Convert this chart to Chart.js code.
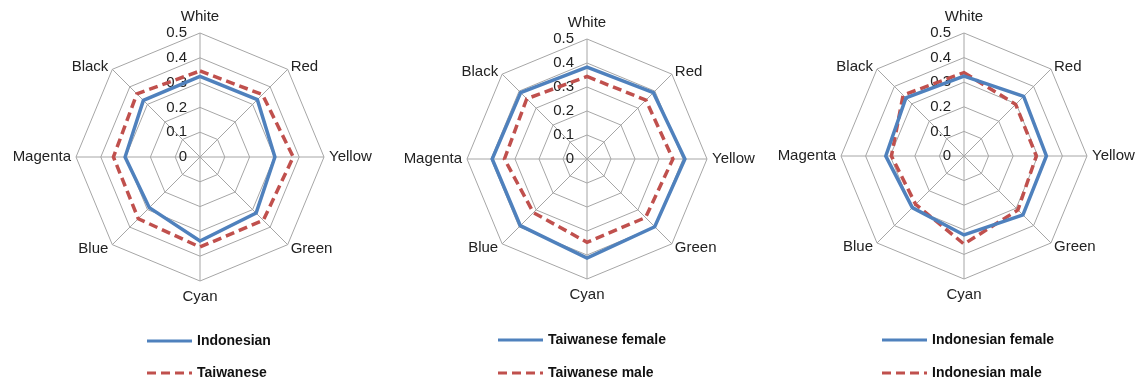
<!DOCTYPE html>
<html>
<head>
<meta charset="utf-8">
<script src="https://cdn.jsdelivr.net/npm/chart.js@4.4.1/dist/chart.umd.min.js"></script>
<style>
    html, body { margin: 0; padding: 0; background: #fff; overflow: hidden; }
    body { width: 1138px; height: 381px; position: relative; }
    canvas { position: absolute; top: 0; }
</style>
</head>
<body>
<canvas id="radarAll" style="left:0px" width="380" height="381"></canvas>
<canvas id="radarTw" style="left:380px" width="380" height="381"></canvas>
<canvas id="radarId" style="left:760px" width="378" height="381"></canvas>

<script>
const colorNames = ['White', 'Red', 'Yellow', 'Green', 'Cyan', 'Blue', 'Magenta', 'Black'];
const tickValues = [0, 0.1, 0.2, 0.3, 0.4, 0.5];

// nationality comparison
const indonesian = [0.325, 0.327, 0.302, 0.32, 0.339, 0.289, 0.302, 0.323];
const taiwanese = [0.347, 0.356, 0.376, 0.361, 0.363, 0.352, 0.349, 0.36];

// Taiwanese by gender
const taiwaneseFemale = [0.383, 0.391, 0.408, 0.399, 0.413, 0.393, 0.395, 0.391];
const taiwaneseMale = [0.344, 0.347, 0.358, 0.345, 0.347, 0.316, 0.344, 0.355];

// Indonesian by gender
const indonesianFemale = [0.325, 0.343, 0.335, 0.339, 0.321, 0.297, 0.318, 0.334];
const indonesianMale = [0.339, 0.297, 0.294, 0.31, 0.358, 0.278, 0.295, 0.35];

const BLUE = '#4F81BD';
const RED = '#C0504D';
const GRID = '#A6A6A6';
const FONT = "'Liberation Sans', Arial, sans-serif";

// tick numbers sit just left of the vertical (White) spoke
const tickLabelPlugin = {
    id: 'tickLabels',
    beforeDatasetsDraw(chart) {
        const scale = chart.scales.r;
        const ctx = chart.ctx;
        ctx.save();
        ctx.font = '15px ' + FONT;
        ctx.fillStyle = '#222';
        ctx.textAlign = 'right';
        ctx.textBaseline = 'middle';
        tickValues.forEach(v => {
            const p = scale.getPointPositionForValue(0, v);
            ctx.fillText(v === 0 ? '0' : v.toFixed(1), p.x - 13, p.y);
        });
        ctx.restore();
    }
};

// category names placed Excel-style: diagonals sit beside the corner, not above it
const colorLabelPlugin = {
    id: 'colorLabels',
    afterDraw(chart) {
        const scale = chart.scales.r;
        const ctx = chart.ctx;
        const r = scale.drawingArea;
        ctx.save();
        ctx.font = '15px ' + FONT;
        ctx.fillStyle = '#222';
        ctx.textBaseline = 'middle';
        chart.data.labels.forEach((name, i) => {
            const corner = scale.getPointPosition(i, r);
            const dx = corner.x - scale.xCenter;
            const dy = corner.y - scale.yCenter;
            let x = corner.x, y = corner.y;
            if (Math.abs(dx) < 1) {
                ctx.textAlign = 'center';
                y += dy < 0 ? -16 : 16;
            } else if (Math.abs(dy) < 1) {
                ctx.textAlign = dx > 0 ? 'left' : 'right';
                x += dx > 0 ? 5 : -5;
            } else {
                ctx.textAlign = dx > 0 ? 'left' : 'right';
                x += dx > 0 ? 3 : -4;
                y += dy < 0 ? -2 : 4;
            }
            ctx.fillText(name, x, y);
        });
        ctx.restore();
    }
};

// two-row key under each radar
const seriesKeyPlugin = {
    id: 'seriesKey',
    afterDraw(chart, args, opts) {
        const ctx = chart.ctx;
        ctx.save();
        ctx.font = 'bold 14px ' + FONT;
        ctx.fillStyle = '#111';
        ctx.textBaseline = 'middle';
        chart.data.datasets.forEach((ds, i) => {
            const y = opts.y + i * opts.rowGap;
            ctx.beginPath();
            ctx.lineWidth = 3;
            ctx.strokeStyle = ds.borderColor;
            ctx.setLineDash(ds.borderDash || []);
            ctx.moveTo(opts.x, y);
            ctx.lineTo(opts.x + 45, y);
            ctx.stroke();
            ctx.setLineDash([]);
            ctx.fillText(ds.label, opts.x + 50, y);
        });
        ctx.restore();
    }
};

function makeRadar(canvasId, labelA, dataA, labelB, dataB, pad, key) {
    const ctx = document.getElementById(canvasId).getContext('2d');
    return new Chart(ctx, {
        type: 'radar',
        data: {
            labels: colorNames,
            datasets: [
                {
                    label: labelA,
                    data: dataA,
                    borderColor: BLUE,
                    borderWidth: 3.5,
                    fill: false,
                    pointRadius: 0,
                    tension: 0
                },
                {
                    label: labelB,
                    data: dataB,
                    borderColor: RED,
                    borderWidth: 3.5,
                    borderDash: [9, 5],
                    fill: false,
                    pointRadius: 0,
                    tension: 0
                }
            ]
        },
        options: {
            responsive: false,
            animation: false,
            layout: { padding: pad },
            plugins: {
                legend: { display: false },
                tooltip: { enabled: false },
                seriesKey: key
            },
            scales: {
                r: {
                    min: 0,
                    max: 0.5,
                    ticks: { stepSize: 0.1, display: false },
                    grid: { color: GRID, lineWidth: 1 },
                    angleLines: { color: GRID, lineWidth: 1 },
                    pointLabels: { display: false }
                }
            }
        },
        plugins: [tickLabelPlugin, colorLabelPlugin, seriesKeyPlugin]
    });
}

makeRadar('radarAll', 'Indonesian', indonesian, 'Taiwanese', taiwanese,
    { left: 76, right: 56, top: 33, bottom: 100 }, { x: 147, y: 341, rowGap: 32 });
makeRadar('radarTw', 'Taiwanese female', taiwaneseFemale, 'Taiwanese male', taiwaneseMale,
    { left: 87, right: 53, top: 39, bottom: 102 }, { x: 118, y: 340, rowGap: 33 });
makeRadar('radarId', 'Indonesian female', indonesianFemale, 'Indonesian male', indonesianMale,
    { left: 81, right: 51, top: 33, bottom: 102 }, { x: 122, y: 340, rowGap: 33 });
</script>
</body>
</html>
